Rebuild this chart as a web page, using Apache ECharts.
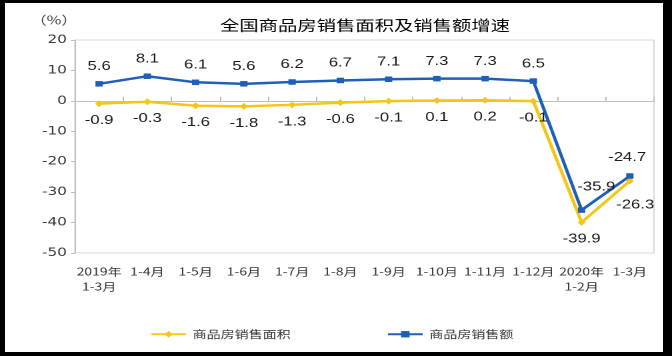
<!DOCTYPE html>
<html><head><meta charset="utf-8">
<script src="https://cdn.jsdelivr.net/npm/echarts@6/dist/echarts.min.js"></script>
<style>
html,body{margin:0;padding:0;background:#000;width:672px;height:356px;overflow:hidden}
#bg{position:absolute;left:5px;top:3px;width:658px;height:349px;background:#fff}
#chart{position:absolute;left:0;top:0;width:504px;height:356px;transform-origin:0 0;transform:scaleX(1.3333333)}
</style></head><body><div id="bg"></div><div id="chart"></div>
<script>
const categories = ['2019年\n1-3月','1-4月','1-5月','1-6月','1-7月','1-8月','1-9月','1-10月','1-11月','1-12月','2020年\n1-2月','1-3月'];
const areaGrowth = [-0.9,-0.3,-1.6,-1.8,-1.3,-0.6,-0.1,0.1,0.2,-0.1,-39.9,-26.3];
const salesGrowth = [5.6,8.1,6.1,5.6,6.2,6.7,7.1,7.3,7.3,6.5,-35.9,-24.7];
const seriesNames = ['商品房销售面积','商品房销售额'];
const yMin = -50, yMax = 20, yStep = 10;

const CJK = '"Noto Sans CJK SC", sans-serif';
const chart = echarts.init(document.getElementById('chart'), null, {devicePixelRatio: 2});

const areaData = areaGrowth.map((v, i) => {
  if (i === areaGrowth.length - 1) return {value: v, label: {offset: [4, 7]}};
  return v;
});
const salesData = salesGrowth.map((v, i) => {
  if (i === salesGrowth.length - 2) return {value: v, label: {offset: [11, -6]}};
  if (i === salesGrowth.length - 1) return {value: v, label: {offset: [-2, -1]}};
  return v;
});

const labelStyle = {show: true, fontSize: 12.5, fontFamily: '"Liberation Sans", Arial, sans-serif', color: '#1a1a1a'};

chart.setOption({
  animation: false,
  backgroundColor: 'transparent',
  title: [
    {text: '全国商品房销售面积及销售额增速', left: 165, top: 18, padding: 0,
     textStyle: {fontSize: 14.5, fontWeight: 'normal', color: '#000', fontFamily: CJK}},
    {text: '（%）', left: 18, top: 9,
     textStyle: {fontSize: 12, fontWeight: 'normal', color: '#444', fontFamily: CJK}}
  ],
  legend: {
    data: seriesNames, left: 112.5, top: 329, padding: 0, itemWidth: 26, itemHeight: 8, itemGap: 72,
    textStyle: {fontSize: 10.5, color: '#333', fontFamily: CJK}
  },
  grid: {left: 56.25, right: 13.5, top: 40, bottom: 103, show: true, borderColor: '#d9d9d9', borderWidth: 1},
  xAxis: {
    type: 'category', data: categories, boundaryGap: true,
    axisLine: {show: true, lineStyle: {color: '#bfbfbf', width: 1}},
    axisTick: {show: true, inside: true, length: 4, lineStyle: {color: '#bfbfbf'}},
    axisLabel: {interval: 0, fontSize: 10.5, lineHeight: 15, margin: 11, color: '#333', fontFamily: CJK}
  },
  yAxis: {
    type: 'value', min: yMin, max: yMax, interval: yStep,
    axisLine: {show: true, lineStyle: {color: '#bfbfbf', width: 1}},
    axisTick: {show: true, inside: false, length: 3, lineStyle: {color: '#bfbfbf'}},
    splitLine: {show: false},
    axisLabel: {fontSize: 11.5, margin: 6, color: '#3a3a3a', fontFamily: '"DejaVu Sans", sans-serif'}
  },
  series: [
    {name: seriesNames[0], type: 'line', data: areaData, symbol: 'diamond', symbolSize: [6, 7],
     lineStyle: {width: 2.5, color: '#F5C518'}, itemStyle: {color: '#F5C518'},
     label: Object.assign({position: 'bottom', distance: 7}, labelStyle)},
    {name: seriesNames[1], type: 'line', data: salesData, symbol: 'rect', symbolSize: [5.5, 5.5],
     lineStyle: {width: 2.5, color: '#1F5FB8'}, itemStyle: {color: '#1F5FB8'},
     label: Object.assign({position: 'top', distance: 8}, labelStyle)}
  ]
});
</script></body></html>
